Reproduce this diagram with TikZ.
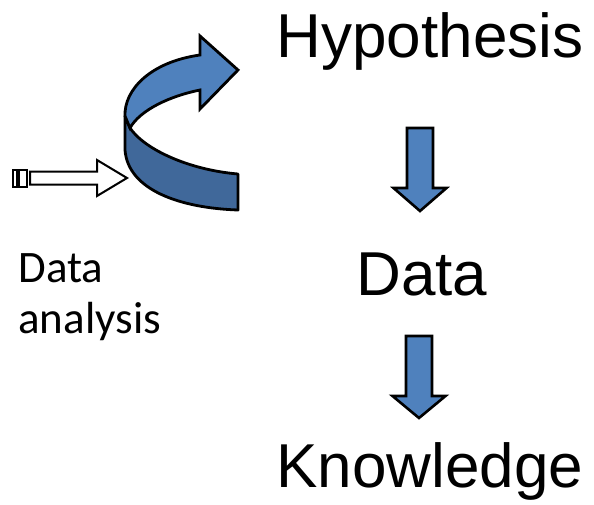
\documentclass[tikz,border=0pt]{standalone}
\usepackage{xcolor}
\usepackage{fontspec}
\setmainfont{Liberation Sans}
\newfontfamily\notefont{Carlito}
\usepackage{tikz}

\definecolor{ribbonlight}{RGB}{79,129,189}
\definecolor{ribbondark}{RGB}{64,104,154}

\tikzset{
  stage/.style={font=\fontsize{31}{36}\selectfont, inner sep=0pt, anchor=base},
  blockarrow/.style={draw=black, line width=1.3pt, fill=ribbonlight, line join=miter},
}

\begin{document}
\begin{tikzpicture}[x=0.5pt, y=-0.5pt]
\useasboundingbox (0,0) rectangle (594,504);

\node[stage] (hyp) at (430,57) {Hypothesis};
\node[stage] (dat) at (422,295) {Data};
\node[stage] (know) at (430,487) {Knowledge};
\node[font=\notefont\fontsize{22.5}{25.5}\selectfont, inner sep=0pt, anchor=base west, align=left] (ana) at (18,333) {Data\\analysis};

% down arrows
\begin{scope}[shift={(420,128)}]
\draw[blockarrow] (-13,0)--(13,0)--(13,60)--(26.5,60)--(0,83)--(-26.5,60)--(-13,60)--cycle;
\end{scope}
\begin{scope}[shift={(419,336)}]
\draw[blockarrow] (-13,0)--(13,0)--(13,60)--(26.5,60)--(0,82)--(-26.5,60)--(-13,60)--cycle;
\end{scope}

% hollow arrow feeding the loop
\draw[line width=1pt] (13,169.5) rectangle (17,186.5);
\draw[line width=1pt] (19,169.5) rectangle (27,186.5);
\draw[line width=1pt, fill=white] (30,171.5)--(97,171.5)--(97,160)--(127,178)--(97,196)--(97,184.5)--(30,184.5)--cycle;

% twisted ribbon: lower band first, upper band on top
\draw[line width=1.4pt, fill=ribbondark, line join=round]
  (125,116)--(125,150) .. controls (128,190) and (180,208) .. (238,210)
  --(238,174) .. controls (190,170) and (145,150) .. (130,128)--cycle;
\draw[line width=1.4pt, fill=ribbonlight, line join=miter]
  (125,116) .. controls (124,90) and (150,62) .. (200,55)
  --(200,36)--(238,70)--(200,109)--(200,90)
  .. controls (170,96) and (140,110) .. (130,128)--cycle;

\end{tikzpicture}
\end{document}
